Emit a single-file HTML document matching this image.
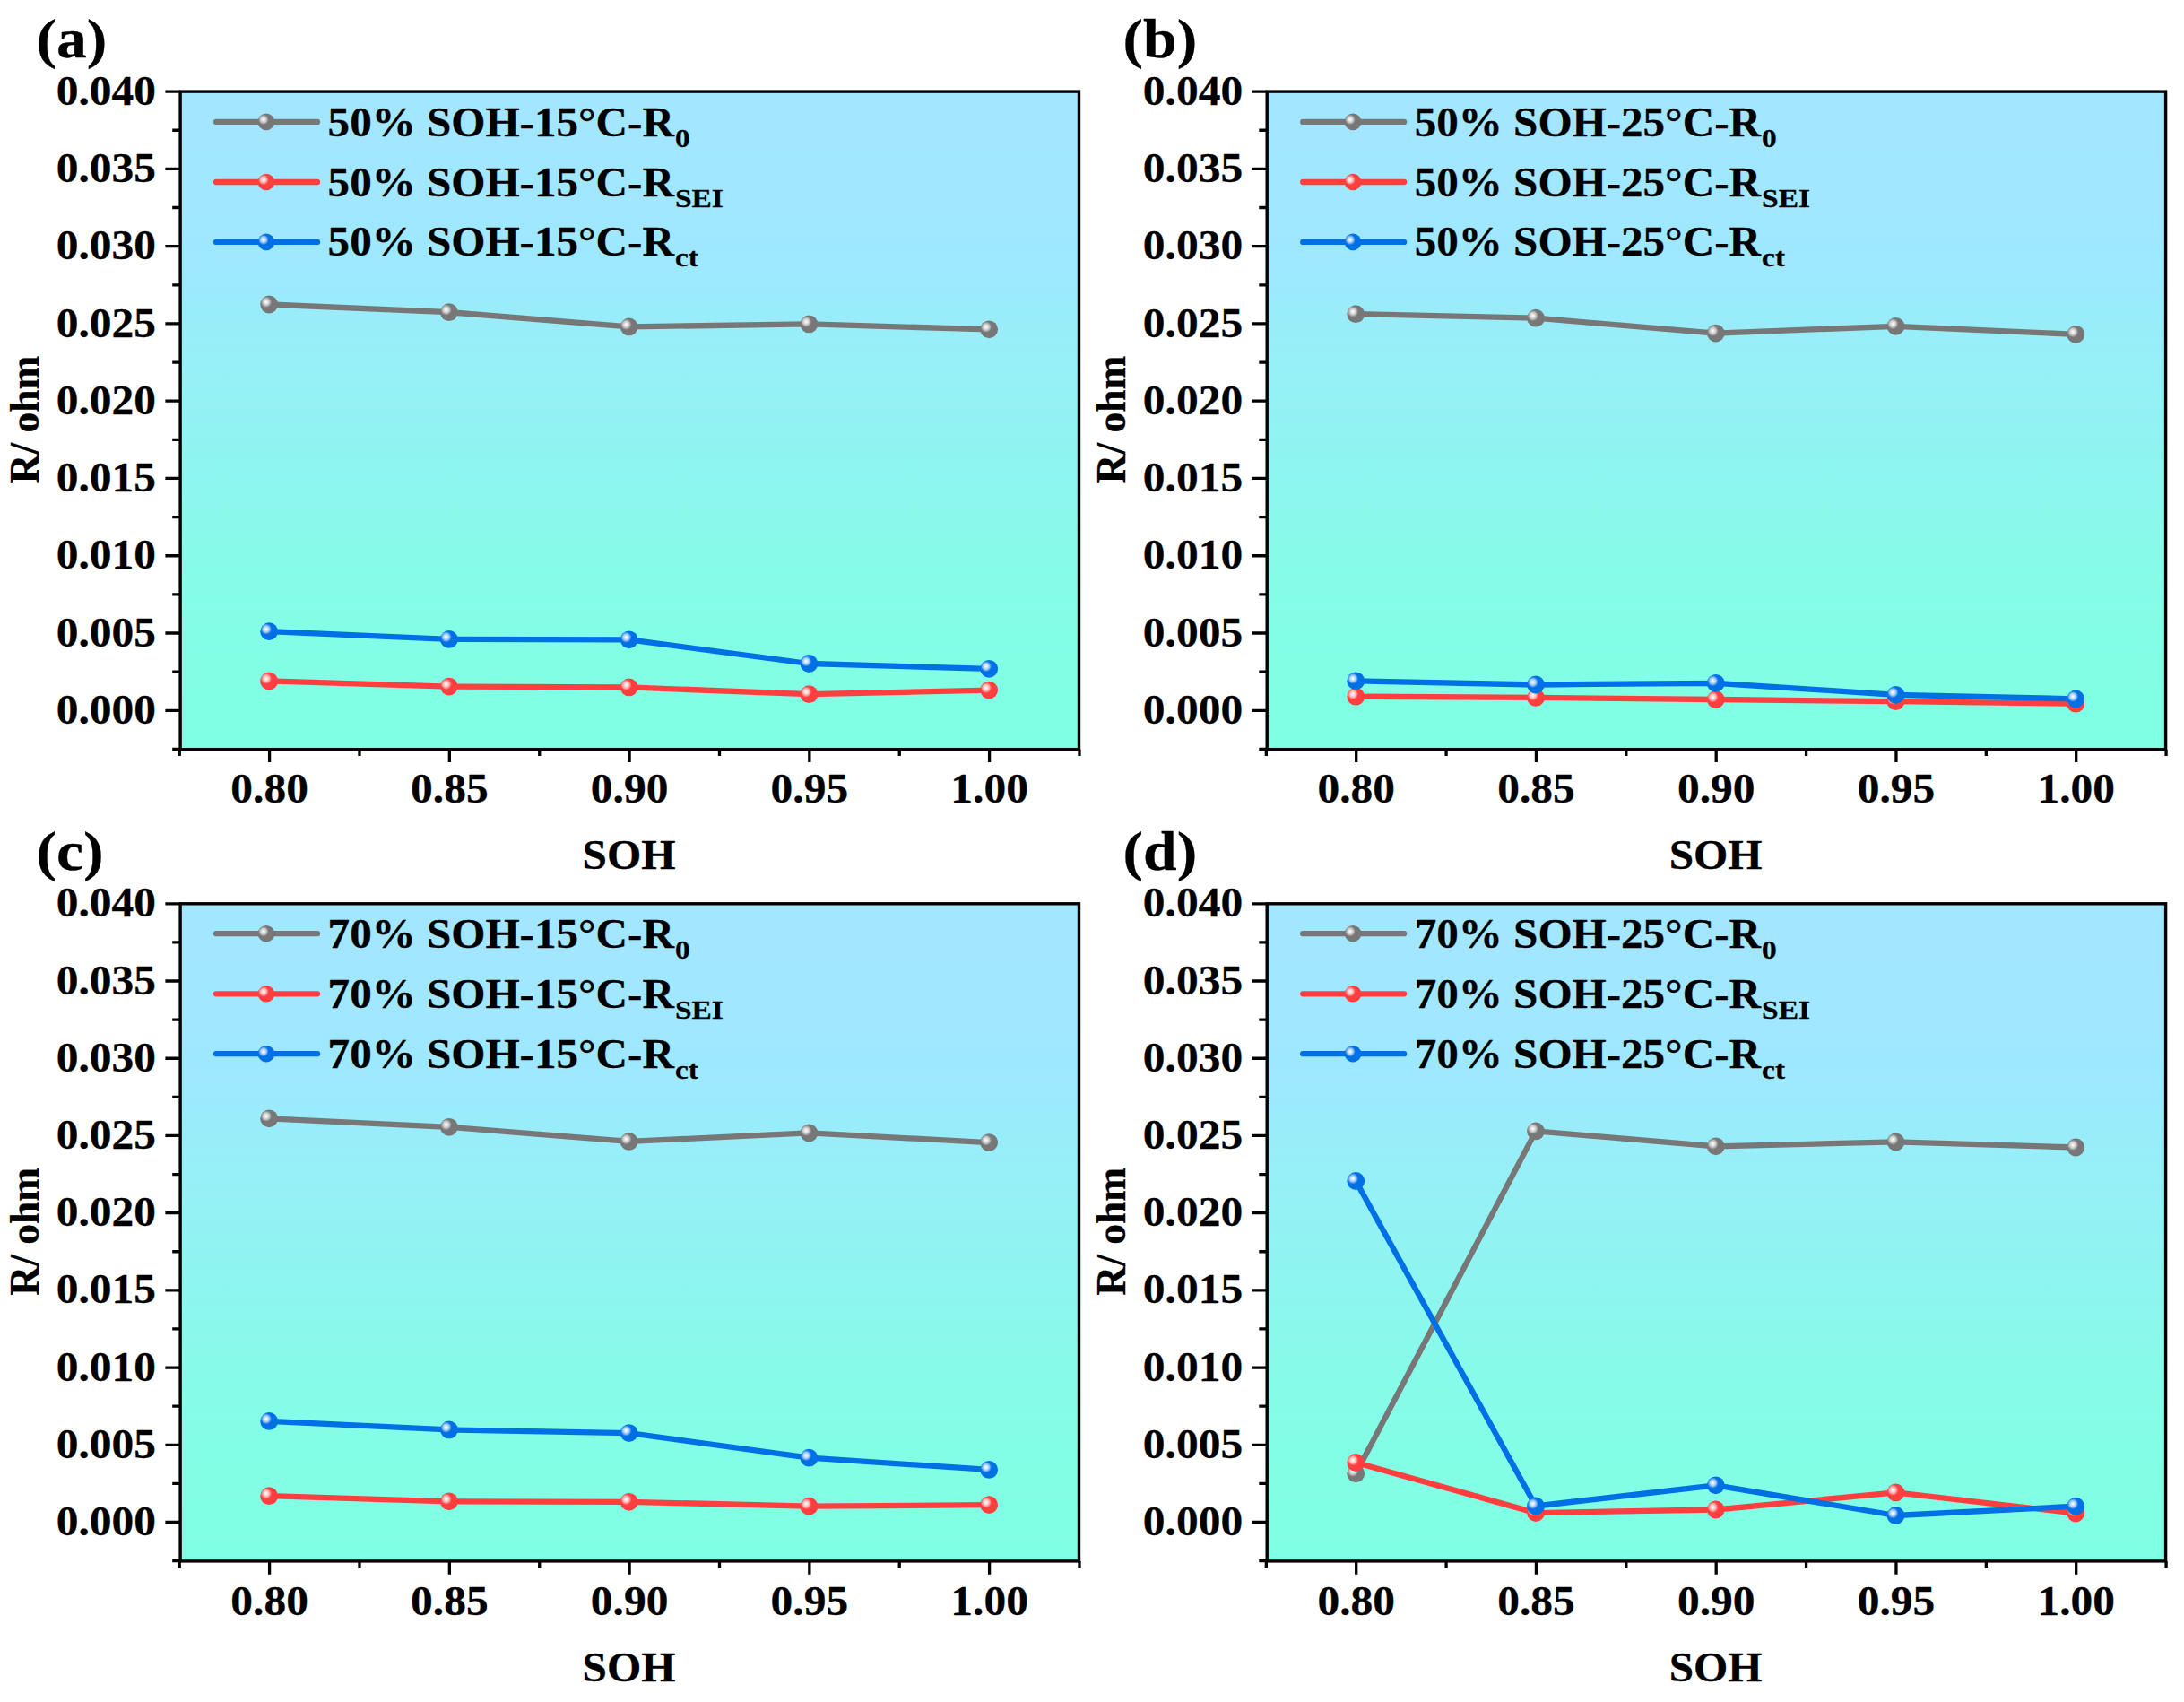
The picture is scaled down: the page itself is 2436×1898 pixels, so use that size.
<!DOCTYPE html>
<html lang="en"><head><meta charset="utf-8"><title>R vs SOH</title>
<style>
html,body{margin:0;padding:0;background:#fff}
body{width:2436px;height:1898px;overflow:hidden}
svg{display:block}
text{font-family:"Liberation Serif",serif;font-weight:bold;fill:#000;stroke:#000;stroke-width:0.3px;stroke-linejoin:round}
</style></head><body>
<svg width="2436" height="1898" viewBox="0 0 2436 1898">
<defs>
<linearGradient id="bg" x1="0" y1="0" x2="0" y2="1"><stop offset="0" stop-color="#A3E6FF"/><stop offset="0.18" stop-color="#A0E7FF"/><stop offset="0.27" stop-color="#9DE9FE"/><stop offset="0.34" stop-color="#99ECFA"/><stop offset="0.42" stop-color="#96F0F7"/><stop offset="0.55" stop-color="#8FF4F0"/><stop offset="0.69" stop-color="#88FAEA"/><stop offset="0.83" stop-color="#83FEE6"/><stop offset="1" stop-color="#7FFFE3"/></linearGradient>
<radialGradient id="mg" cx="0.335" cy="0.365" r="0.31" fx="0.335" fy="0.365"><stop offset="0" stop-color="#FFFFFF"/><stop offset="0.3" stop-color="#E5E5E5"/><stop offset="0.6" stop-color="#C4C4C4"/><stop offset="0.85" stop-color="#929292"/><stop offset="1" stop-color="#777777"/></radialGradient>
<radialGradient id="mr" cx="0.335" cy="0.365" r="0.31" fx="0.335" fy="0.365"><stop offset="0" stop-color="#FFFFFF"/><stop offset="0.3" stop-color="#FFDBDB"/><stop offset="0.6" stop-color="#FFADAD"/><stop offset="0.85" stop-color="#FF6666"/><stop offset="1" stop-color="#FF3F3F"/></radialGradient>
<radialGradient id="mb" cx="0.335" cy="0.365" r="0.31" fx="0.335" fy="0.365"><stop offset="0" stop-color="#FFFFFF"/><stop offset="0.3" stop-color="#D3E6FC"/><stop offset="0.6" stop-color="#95C3F5"/><stop offset="0.85" stop-color="#358DEA"/><stop offset="1" stop-color="#0070E4"/></radialGradient>
</defs>
<rect width="2436" height="1898" fill="#fff"/>
<g transform="translate(0,0)">
<rect x="201.1" y="102.1" width="1002.4" height="733.6" fill="url(#bg)"/>
<path d="M201.1 792.3H184.4M201.1 706.02H184.4M201.1 619.75H184.4M201.1 533.47H184.4M201.1 447.2H184.4M201.1 360.92H184.4M201.1 274.65H184.4M201.1 188.37H184.4M201.1 102.1H184.4M201.1 835.44H192.2M201.1 749.16H192.2M201.1 662.89H192.2M201.1 576.61H192.2M201.1 490.34H192.2M201.1 404.06H192.2M201.1 317.79H192.2M201.1 231.51H192.2M201.1 145.24H192.2M300.6 835.7V849.9M501.35 835.7V849.9M702.1 835.7V849.9M902.85 835.7V849.9M1103.6 835.7V849.9M200.23 835.7V843.1M400.98 835.7V843.1M601.73 835.7V843.1M802.48 835.7V843.1M1003.23 835.7V843.1M1203.97 835.7V843.1" stroke="#000" stroke-width="3.3" fill="none"/>
<rect x="201.1" y="102.1" width="1002.4" height="733.6" fill="none" stroke="#000" stroke-width="3.4"/>
<polyline points="300.15,339.5 500.9,348.2 701.65,364.4 902.4,361.4 1103.15,367.3" fill="none" stroke="#777777" stroke-width="6.3" stroke-linejoin="round" stroke-linecap="round"/>
<circle cx="300.15" cy="339.5" r="9.9" fill="url(#mg)"/>
<circle cx="500.9" cy="348.2" r="9.9" fill="url(#mg)"/>
<circle cx="701.65" cy="364.4" r="9.9" fill="url(#mg)"/>
<circle cx="902.4" cy="361.4" r="9.9" fill="url(#mg)"/>
<circle cx="1103.15" cy="367.3" r="9.9" fill="url(#mg)"/>
<polyline points="300.15,759.4 500.9,765.6 701.65,766.4 902.4,774.2 1103.15,769.6" fill="none" stroke="#FF3F3F" stroke-width="6.3" stroke-linejoin="round" stroke-linecap="round"/>
<circle cx="300.15" cy="759.4" r="9.9" fill="url(#mr)"/>
<circle cx="500.9" cy="765.6" r="9.9" fill="url(#mr)"/>
<circle cx="701.65" cy="766.4" r="9.9" fill="url(#mr)"/>
<circle cx="902.4" cy="774.2" r="9.9" fill="url(#mr)"/>
<circle cx="1103.15" cy="769.6" r="9.9" fill="url(#mr)"/>
<polyline points="300.15,704.2 500.9,712.9 701.65,713.3 902.4,740 1103.15,745.8" fill="none" stroke="#0070E4" stroke-width="6.3" stroke-linejoin="round" stroke-linecap="round"/>
<circle cx="300.15" cy="704.2" r="9.9" fill="url(#mb)"/>
<circle cx="500.9" cy="712.9" r="9.9" fill="url(#mb)"/>
<circle cx="701.65" cy="713.3" r="9.9" fill="url(#mb)"/>
<circle cx="902.4" cy="740" r="9.9" fill="url(#mb)"/>
<circle cx="1103.15" cy="745.8" r="9.9" fill="url(#mb)"/>
<line x1="241.1" y1="135.9" x2="354" y2="135.9" stroke="#777777" stroke-width="6.3" stroke-linecap="round"/>
<circle cx="296.95" cy="135.9" r="9.3" fill="url(#mg)"/>
<text transform="translate(365.6,151.8) scale(1.067,1)" font-size="46" text-anchor="start">50% SOH-15°C-R</text>
<text transform="translate(752.95,163.8) scale(1.110,1)" font-size="30.13" text-anchor="start">0</text>
<line x1="241.1" y1="203" x2="354" y2="203" stroke="#FF3F3F" stroke-width="6.3" stroke-linecap="round"/>
<circle cx="296.95" cy="203" r="9.3" fill="url(#mr)"/>
<text transform="translate(365.6,218.6) scale(1.067,1)" font-size="46" text-anchor="start">50% SOH-15°C-R</text>
<text transform="translate(752.95,230.6) scale(1.110,1)" font-size="30.13" text-anchor="start">SEI</text>
<line x1="241.1" y1="269.9" x2="354" y2="269.9" stroke="#0070E4" stroke-width="6.3" stroke-linecap="round"/>
<circle cx="296.95" cy="269.9" r="9.3" fill="url(#mb)"/>
<text transform="translate(365.6,285.3) scale(1.067,1)" font-size="46" text-anchor="start">50% SOH-15°C-R</text>
<text transform="translate(752.95,297.3) scale(1.110,1)" font-size="30.13" text-anchor="start">ct</text>
<text transform="translate(174,806.9) scale(1.075,1)" font-size="46" text-anchor="end">0.000</text>
<text transform="translate(174,720.62) scale(1.075,1)" font-size="46" text-anchor="end">0.005</text>
<text transform="translate(174,634.35) scale(1.075,1)" font-size="46" text-anchor="end">0.010</text>
<text transform="translate(174,548.07) scale(1.075,1)" font-size="46" text-anchor="end">0.015</text>
<text transform="translate(174,461.8) scale(1.075,1)" font-size="46" text-anchor="end">0.020</text>
<text transform="translate(174,375.52) scale(1.075,1)" font-size="46" text-anchor="end">0.025</text>
<text transform="translate(174,289.25) scale(1.075,1)" font-size="46" text-anchor="end">0.030</text>
<text transform="translate(174,202.97) scale(1.075,1)" font-size="46" text-anchor="end">0.035</text>
<text transform="translate(174,116.7) scale(1.075,1)" font-size="46" text-anchor="end">0.040</text>
<text transform="translate(300.6,895) scale(1.075,1)" font-size="46" text-anchor="middle">0.80</text>
<text transform="translate(501.35,895) scale(1.075,1)" font-size="46" text-anchor="middle">0.85</text>
<text transform="translate(702.1,895) scale(1.075,1)" font-size="46" text-anchor="middle">0.90</text>
<text transform="translate(902.85,895) scale(1.075,1)" font-size="46" text-anchor="middle">0.95</text>
<text transform="translate(1103.6,895) scale(1.075,1)" font-size="46" text-anchor="middle">1.00</text>
<text transform="translate(701.5,969.2) scale(1.070,1)" font-size="46" text-anchor="middle">SOH</text>
<text transform="translate(43.2,468) rotate(-90)" font-size="45.5" text-anchor="middle">R/ ohm</text>
<text transform="translate(40.5,64.2) scale(1.100,1)" font-size="61.5" text-anchor="start">(a)</text>
</g>
<g transform="translate(1212.1,0)">
<rect x="201.1" y="102.1" width="1002.4" height="733.6" fill="url(#bg)"/>
<path d="M201.1 792.3H184.4M201.1 706.02H184.4M201.1 619.75H184.4M201.1 533.47H184.4M201.1 447.2H184.4M201.1 360.92H184.4M201.1 274.65H184.4M201.1 188.37H184.4M201.1 102.1H184.4M201.1 835.44H192.2M201.1 749.16H192.2M201.1 662.89H192.2M201.1 576.61H192.2M201.1 490.34H192.2M201.1 404.06H192.2M201.1 317.79H192.2M201.1 231.51H192.2M201.1 145.24H192.2M300.6 835.7V849.9M501.35 835.7V849.9M702.1 835.7V849.9M902.85 835.7V849.9M1103.6 835.7V849.9M200.23 835.7V843.1M400.98 835.7V843.1M601.73 835.7V843.1M802.48 835.7V843.1M1003.23 835.7V843.1M1203.97 835.7V843.1" stroke="#000" stroke-width="3.3" fill="none"/>
<rect x="201.1" y="102.1" width="1002.4" height="733.6" fill="none" stroke="#000" stroke-width="3.4"/>
<polyline points="300.15,350.2 500.9,354.7 701.65,371.6 902.4,363.8 1103.15,372.8" fill="none" stroke="#777777" stroke-width="6.3" stroke-linejoin="round" stroke-linecap="round"/>
<circle cx="300.15" cy="350.2" r="9.9" fill="url(#mg)"/>
<circle cx="500.9" cy="354.7" r="9.9" fill="url(#mg)"/>
<circle cx="701.65" cy="371.6" r="9.9" fill="url(#mg)"/>
<circle cx="902.4" cy="363.8" r="9.9" fill="url(#mg)"/>
<circle cx="1103.15" cy="372.8" r="9.9" fill="url(#mg)"/>
<polyline points="300.15,776.7 500.9,777.9 701.65,780 902.4,782.2 1103.15,784.7" fill="none" stroke="#FF3F3F" stroke-width="6.3" stroke-linejoin="round" stroke-linecap="round"/>
<circle cx="300.15" cy="776.7" r="9.9" fill="url(#mr)"/>
<circle cx="500.9" cy="777.9" r="9.9" fill="url(#mr)"/>
<circle cx="701.65" cy="780" r="9.9" fill="url(#mr)"/>
<circle cx="902.4" cy="782.2" r="9.9" fill="url(#mr)"/>
<circle cx="1103.15" cy="784.7" r="9.9" fill="url(#mr)"/>
<polyline points="300.15,759.3 500.9,763.5 701.65,761.8 902.4,774.8 1103.15,779.4" fill="none" stroke="#0070E4" stroke-width="6.3" stroke-linejoin="round" stroke-linecap="round"/>
<circle cx="300.15" cy="759.3" r="9.9" fill="url(#mb)"/>
<circle cx="500.9" cy="763.5" r="9.9" fill="url(#mb)"/>
<circle cx="701.65" cy="761.8" r="9.9" fill="url(#mb)"/>
<circle cx="902.4" cy="774.8" r="9.9" fill="url(#mb)"/>
<circle cx="1103.15" cy="779.4" r="9.9" fill="url(#mb)"/>
<line x1="241.1" y1="135.9" x2="354" y2="135.9" stroke="#777777" stroke-width="6.3" stroke-linecap="round"/>
<circle cx="296.95" cy="135.9" r="9.3" fill="url(#mg)"/>
<text transform="translate(365.6,151.8) scale(1.067,1)" font-size="46" text-anchor="start">50% SOH-25°C-R</text>
<text transform="translate(752.95,163.8) scale(1.110,1)" font-size="30.13" text-anchor="start">0</text>
<line x1="241.1" y1="203" x2="354" y2="203" stroke="#FF3F3F" stroke-width="6.3" stroke-linecap="round"/>
<circle cx="296.95" cy="203" r="9.3" fill="url(#mr)"/>
<text transform="translate(365.6,218.6) scale(1.067,1)" font-size="46" text-anchor="start">50% SOH-25°C-R</text>
<text transform="translate(752.95,230.6) scale(1.110,1)" font-size="30.13" text-anchor="start">SEI</text>
<line x1="241.1" y1="269.9" x2="354" y2="269.9" stroke="#0070E4" stroke-width="6.3" stroke-linecap="round"/>
<circle cx="296.95" cy="269.9" r="9.3" fill="url(#mb)"/>
<text transform="translate(365.6,285.3) scale(1.067,1)" font-size="46" text-anchor="start">50% SOH-25°C-R</text>
<text transform="translate(752.95,297.3) scale(1.110,1)" font-size="30.13" text-anchor="start">ct</text>
<text transform="translate(174,806.9) scale(1.075,1)" font-size="46" text-anchor="end">0.000</text>
<text transform="translate(174,720.62) scale(1.075,1)" font-size="46" text-anchor="end">0.005</text>
<text transform="translate(174,634.35) scale(1.075,1)" font-size="46" text-anchor="end">0.010</text>
<text transform="translate(174,548.07) scale(1.075,1)" font-size="46" text-anchor="end">0.015</text>
<text transform="translate(174,461.8) scale(1.075,1)" font-size="46" text-anchor="end">0.020</text>
<text transform="translate(174,375.52) scale(1.075,1)" font-size="46" text-anchor="end">0.025</text>
<text transform="translate(174,289.25) scale(1.075,1)" font-size="46" text-anchor="end">0.030</text>
<text transform="translate(174,202.97) scale(1.075,1)" font-size="46" text-anchor="end">0.035</text>
<text transform="translate(174,116.7) scale(1.075,1)" font-size="46" text-anchor="end">0.040</text>
<text transform="translate(300.6,895) scale(1.075,1)" font-size="46" text-anchor="middle">0.80</text>
<text transform="translate(501.35,895) scale(1.075,1)" font-size="46" text-anchor="middle">0.85</text>
<text transform="translate(702.1,895) scale(1.075,1)" font-size="46" text-anchor="middle">0.90</text>
<text transform="translate(902.85,895) scale(1.075,1)" font-size="46" text-anchor="middle">0.95</text>
<text transform="translate(1103.6,895) scale(1.075,1)" font-size="46" text-anchor="middle">1.00</text>
<text transform="translate(701.5,969.2) scale(1.070,1)" font-size="46" text-anchor="middle">SOH</text>
<text transform="translate(43.2,468) rotate(-90)" font-size="45.5" text-anchor="middle">R/ ohm</text>
<text transform="translate(40.5,64.2) scale(1.100,1)" font-size="61.5" text-anchor="start">(b)</text>
</g>
<g transform="translate(0,905.3)">
<rect x="201.1" y="102.5" width="1002.4" height="733.1" fill="url(#bg)"/>
<path d="M201.1 792.2H184.4M201.1 705.99H184.4M201.1 619.78H184.4M201.1 533.56H184.4M201.1 447.35H184.4M201.1 361.14H184.4M201.1 274.93H184.4M201.1 188.71H184.4M201.1 102.5H184.4M201.1 835.31H192.2M201.1 749.09H192.2M201.1 662.88H192.2M201.1 576.67H192.2M201.1 490.46H192.2M201.1 404.24H192.2M201.1 318.03H192.2M201.1 231.82H192.2M201.1 145.61H192.2M300.6 835.6V850.5M501.35 835.6V850.5M702.1 835.6V850.5M902.85 835.6V850.5M1103.6 835.6V850.5M200.23 835.6V843.7M400.98 835.6V843.7M601.73 835.6V843.7M802.48 835.6V843.7M1003.23 835.6V843.7M1203.97 835.6V843.7" stroke="#000" stroke-width="3.3" fill="none"/>
<rect x="201.1" y="102.5" width="1002.4" height="733.1" fill="none" stroke="#000" stroke-width="3.4"/>
<polyline points="300.15,342 500.9,351.5 701.65,367.6 902.4,358.1 1103.15,368.8" fill="none" stroke="#777777" stroke-width="6.3" stroke-linejoin="round" stroke-linecap="round"/>
<circle cx="300.15" cy="342" r="9.9" fill="url(#mg)"/>
<circle cx="500.9" cy="351.5" r="9.9" fill="url(#mg)"/>
<circle cx="701.65" cy="367.6" r="9.9" fill="url(#mg)"/>
<circle cx="902.4" cy="358.1" r="9.9" fill="url(#mg)"/>
<circle cx="1103.15" cy="368.8" r="9.9" fill="url(#mg)"/>
<polyline points="300.15,762.9 500.9,769 701.65,769.5 902.4,774.4 1103.15,772.8" fill="none" stroke="#FF3F3F" stroke-width="6.3" stroke-linejoin="round" stroke-linecap="round"/>
<circle cx="300.15" cy="762.9" r="9.9" fill="url(#mr)"/>
<circle cx="500.9" cy="769" r="9.9" fill="url(#mr)"/>
<circle cx="701.65" cy="769.5" r="9.9" fill="url(#mr)"/>
<circle cx="902.4" cy="774.4" r="9.9" fill="url(#mr)"/>
<circle cx="1103.15" cy="772.8" r="9.9" fill="url(#mr)"/>
<polyline points="300.15,679.6 500.9,689.1 701.65,692.8 902.4,720.4 1103.15,733.6" fill="none" stroke="#0070E4" stroke-width="6.3" stroke-linejoin="round" stroke-linecap="round"/>
<circle cx="300.15" cy="679.6" r="9.9" fill="url(#mb)"/>
<circle cx="500.9" cy="689.1" r="9.9" fill="url(#mb)"/>
<circle cx="701.65" cy="692.8" r="9.9" fill="url(#mb)"/>
<circle cx="902.4" cy="720.4" r="9.9" fill="url(#mb)"/>
<circle cx="1103.15" cy="733.6" r="9.9" fill="url(#mb)"/>
<line x1="241.1" y1="135.9" x2="354" y2="135.9" stroke="#777777" stroke-width="6.3" stroke-linecap="round"/>
<circle cx="296.95" cy="135.9" r="9.3" fill="url(#mg)"/>
<text transform="translate(365.6,151.8) scale(1.067,1)" font-size="46" text-anchor="start">70% SOH-15°C-R</text>
<text transform="translate(752.95,163.8) scale(1.110,1)" font-size="30.13" text-anchor="start">0</text>
<line x1="241.1" y1="203" x2="354" y2="203" stroke="#FF3F3F" stroke-width="6.3" stroke-linecap="round"/>
<circle cx="296.95" cy="203" r="9.3" fill="url(#mr)"/>
<text transform="translate(365.6,218.6) scale(1.067,1)" font-size="46" text-anchor="start">70% SOH-15°C-R</text>
<text transform="translate(752.95,230.6) scale(1.110,1)" font-size="30.13" text-anchor="start">SEI</text>
<line x1="241.1" y1="269.9" x2="354" y2="269.9" stroke="#0070E4" stroke-width="6.3" stroke-linecap="round"/>
<circle cx="296.95" cy="269.9" r="9.3" fill="url(#mb)"/>
<text transform="translate(365.6,285.3) scale(1.067,1)" font-size="46" text-anchor="start">70% SOH-15°C-R</text>
<text transform="translate(752.95,297.3) scale(1.110,1)" font-size="30.13" text-anchor="start">ct</text>
<text transform="translate(174,806.8) scale(1.075,1)" font-size="46" text-anchor="end">0.000</text>
<text transform="translate(174,720.59) scale(1.075,1)" font-size="46" text-anchor="end">0.005</text>
<text transform="translate(174,634.38) scale(1.075,1)" font-size="46" text-anchor="end">0.010</text>
<text transform="translate(174,548.16) scale(1.075,1)" font-size="46" text-anchor="end">0.015</text>
<text transform="translate(174,461.95) scale(1.075,1)" font-size="46" text-anchor="end">0.020</text>
<text transform="translate(174,375.74) scale(1.075,1)" font-size="46" text-anchor="end">0.025</text>
<text transform="translate(174,289.53) scale(1.075,1)" font-size="46" text-anchor="end">0.030</text>
<text transform="translate(174,203.31) scale(1.075,1)" font-size="46" text-anchor="end">0.035</text>
<text transform="translate(174,117.1) scale(1.075,1)" font-size="46" text-anchor="end">0.040</text>
<text transform="translate(300.6,895.8) scale(1.075,1)" font-size="46" text-anchor="middle">0.80</text>
<text transform="translate(501.35,895.8) scale(1.075,1)" font-size="46" text-anchor="middle">0.85</text>
<text transform="translate(702.1,895.8) scale(1.075,1)" font-size="46" text-anchor="middle">0.90</text>
<text transform="translate(902.85,895.8) scale(1.075,1)" font-size="46" text-anchor="middle">0.95</text>
<text transform="translate(1103.6,895.8) scale(1.075,1)" font-size="46" text-anchor="middle">1.00</text>
<text transform="translate(701.5,969.2) scale(1.070,1)" font-size="46" text-anchor="middle">SOH</text>
<text transform="translate(43.2,468) rotate(-90)" font-size="45.5" text-anchor="middle">R/ ohm</text>
<text transform="translate(40.5,64.2) scale(1.100,1)" font-size="61.5" text-anchor="start">(c)</text>
</g>
<g transform="translate(1212.1,905.3)">
<rect x="201.1" y="102.5" width="1002.4" height="733.1" fill="url(#bg)"/>
<path d="M201.1 792.2H184.4M201.1 705.99H184.4M201.1 619.78H184.4M201.1 533.56H184.4M201.1 447.35H184.4M201.1 361.14H184.4M201.1 274.93H184.4M201.1 188.71H184.4M201.1 102.5H184.4M201.1 835.31H192.2M201.1 749.09H192.2M201.1 662.88H192.2M201.1 576.67H192.2M201.1 490.46H192.2M201.1 404.24H192.2M201.1 318.03H192.2M201.1 231.82H192.2M201.1 145.61H192.2M300.6 835.6V850.5M501.35 835.6V850.5M702.1 835.6V850.5M902.85 835.6V850.5M1103.6 835.6V850.5M200.23 835.6V843.7M400.98 835.6V843.7M601.73 835.6V843.7M802.48 835.6V843.7M1003.23 835.6V843.7M1203.97 835.6V843.7" stroke="#000" stroke-width="3.3" fill="none"/>
<rect x="201.1" y="102.5" width="1002.4" height="733.1" fill="none" stroke="#000" stroke-width="3.4"/>
<polyline points="300.15,738 500.9,356.1 701.65,373 902.4,368.1 1103.15,374.2" fill="none" stroke="#777777" stroke-width="6.3" stroke-linejoin="round" stroke-linecap="round"/>
<circle cx="300.15" cy="738" r="9.9" fill="url(#mg)"/>
<circle cx="500.9" cy="356.1" r="9.9" fill="url(#mg)"/>
<circle cx="701.65" cy="373" r="9.9" fill="url(#mg)"/>
<circle cx="902.4" cy="368.1" r="9.9" fill="url(#mg)"/>
<circle cx="1103.15" cy="374.2" r="9.9" fill="url(#mg)"/>
<polyline points="300.15,725.7 500.9,781.8 701.65,778.2 902.4,759.1 1103.15,782.2" fill="none" stroke="#FF3F3F" stroke-width="6.3" stroke-linejoin="round" stroke-linecap="round"/>
<circle cx="300.15" cy="725.7" r="9.9" fill="url(#mr)"/>
<circle cx="500.9" cy="781.8" r="9.9" fill="url(#mr)"/>
<circle cx="701.65" cy="778.2" r="9.9" fill="url(#mr)"/>
<circle cx="902.4" cy="759.1" r="9.9" fill="url(#mr)"/>
<circle cx="1103.15" cy="782.2" r="9.9" fill="url(#mr)"/>
<polyline points="300.15,411.7 500.9,774.2 701.65,751 902.4,784.7 1103.15,774.4" fill="none" stroke="#0070E4" stroke-width="6.3" stroke-linejoin="round" stroke-linecap="round"/>
<circle cx="300.15" cy="411.7" r="9.9" fill="url(#mb)"/>
<circle cx="500.9" cy="774.2" r="9.9" fill="url(#mb)"/>
<circle cx="701.65" cy="751" r="9.9" fill="url(#mb)"/>
<circle cx="902.4" cy="784.7" r="9.9" fill="url(#mb)"/>
<circle cx="1103.15" cy="774.4" r="9.9" fill="url(#mb)"/>
<line x1="241.1" y1="135.9" x2="354" y2="135.9" stroke="#777777" stroke-width="6.3" stroke-linecap="round"/>
<circle cx="296.95" cy="135.9" r="9.3" fill="url(#mg)"/>
<text transform="translate(365.6,151.8) scale(1.067,1)" font-size="46" text-anchor="start">70% SOH-25°C-R</text>
<text transform="translate(752.95,163.8) scale(1.110,1)" font-size="30.13" text-anchor="start">0</text>
<line x1="241.1" y1="203" x2="354" y2="203" stroke="#FF3F3F" stroke-width="6.3" stroke-linecap="round"/>
<circle cx="296.95" cy="203" r="9.3" fill="url(#mr)"/>
<text transform="translate(365.6,218.6) scale(1.067,1)" font-size="46" text-anchor="start">70% SOH-25°C-R</text>
<text transform="translate(752.95,230.6) scale(1.110,1)" font-size="30.13" text-anchor="start">SEI</text>
<line x1="241.1" y1="269.9" x2="354" y2="269.9" stroke="#0070E4" stroke-width="6.3" stroke-linecap="round"/>
<circle cx="296.95" cy="269.9" r="9.3" fill="url(#mb)"/>
<text transform="translate(365.6,285.3) scale(1.067,1)" font-size="46" text-anchor="start">70% SOH-25°C-R</text>
<text transform="translate(752.95,297.3) scale(1.110,1)" font-size="30.13" text-anchor="start">ct</text>
<text transform="translate(174,806.8) scale(1.075,1)" font-size="46" text-anchor="end">0.000</text>
<text transform="translate(174,720.59) scale(1.075,1)" font-size="46" text-anchor="end">0.005</text>
<text transform="translate(174,634.38) scale(1.075,1)" font-size="46" text-anchor="end">0.010</text>
<text transform="translate(174,548.16) scale(1.075,1)" font-size="46" text-anchor="end">0.015</text>
<text transform="translate(174,461.95) scale(1.075,1)" font-size="46" text-anchor="end">0.020</text>
<text transform="translate(174,375.74) scale(1.075,1)" font-size="46" text-anchor="end">0.025</text>
<text transform="translate(174,289.53) scale(1.075,1)" font-size="46" text-anchor="end">0.030</text>
<text transform="translate(174,203.31) scale(1.075,1)" font-size="46" text-anchor="end">0.035</text>
<text transform="translate(174,117.1) scale(1.075,1)" font-size="46" text-anchor="end">0.040</text>
<text transform="translate(300.6,895.8) scale(1.075,1)" font-size="46" text-anchor="middle">0.80</text>
<text transform="translate(501.35,895.8) scale(1.075,1)" font-size="46" text-anchor="middle">0.85</text>
<text transform="translate(702.1,895.8) scale(1.075,1)" font-size="46" text-anchor="middle">0.90</text>
<text transform="translate(902.85,895.8) scale(1.075,1)" font-size="46" text-anchor="middle">0.95</text>
<text transform="translate(1103.6,895.8) scale(1.075,1)" font-size="46" text-anchor="middle">1.00</text>
<text transform="translate(701.5,969.2) scale(1.070,1)" font-size="46" text-anchor="middle">SOH</text>
<text transform="translate(43.2,468) rotate(-90)" font-size="45.5" text-anchor="middle">R/ ohm</text>
<text transform="translate(40.5,64.2) scale(1.100,1)" font-size="61.5" text-anchor="start">(d)</text>
</g>
</svg>
</body></html>
